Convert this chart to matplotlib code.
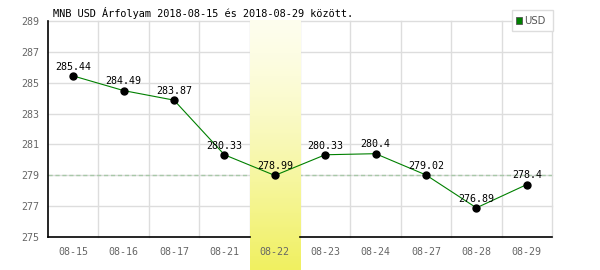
import matplotlib
matplotlib.use("Agg")
import matplotlib.pyplot as plt
import numpy as np
from matplotlib.patches import Rectangle

# Daily MNB USD rates shown in the chart.
dates = ["08-15", "08-16", "08-17", "08-21", "08-22", "08-23", "08-24", "08-27", "08-28", "08-29"]
rates = [285.44, 284.49, 283.87, 280.33, 278.99, 280.33, 280.4, 279.02, 276.89, 278.4]
y_ticks = [275, 277, 279, 281, 283, 285, 287, 289]
highlight_date = "08-22"
reference_level = 279
title = "MNB USD Árfolyam 2018-08-15 és 2018-08-29 között."
series_name = "USD"

W, H = 600, 270
fig = plt.figure(figsize=(W / 100, H / 100), dpi=100)
ax = fig.add_axes([48 / W, 1 - 237 / H, 504 / W, 216 / H])

x = np.arange(len(dates))

# Grid: horizontal at y ticks, vertical between categories.
for yv in y_ticks[1:]:
    ax.axhline(yv, color="#dddddd", lw=1, zorder=0.5, clip_on=False)
for xv in x + 0.5:
    ax.axvline(xv, color="#dddddd", lw=1, zorder=0.5, clip_on=False)
ax.axhline(reference_level, color="#a8c8a8", lw=1, ls=(0, (3, 2)), zorder=0.6)

# Highlighted day with a vertical gradient running to the bottom of the figure.
hi = dates.index(highlight_date)
grad = np.linspace(0, 1, 256).reshape(-1, 1) ** 1.3
top = np.array([254, 254, 238]) / 255
bottom = np.array([240, 240, 96]) / 255
img = top + (bottom - top) * grad[:, :, None]
ybot = -(H - 237) / 216
ax.imshow(img, extent=(hi - 0.5, hi + 0.5, ybot, 1.0), origin="upper",
          transform=ax.get_xaxis_transform(), aspect="auto", clip_on=False, zorder=1.5)
ax.set_xlim(-0.5, len(dates) - 0.5)
ax.set_ylim(y_ticks[0], y_ticks[-1])

# Axis lines: bottom one is interrupted by the highlight.
for s in ["top", "right", "bottom"]:
    ax.spines[s].set_visible(False)
ax.spines["left"].set_color("black")
ax.spines["left"].set_linewidth(1.2)
ax.plot([-0.5, hi - 0.5], [y_ticks[0]] * 2, color="black", lw=1.2, clip_on=False, zorder=2)
ax.plot([hi + 0.5, len(dates) - 0.5], [y_ticks[0]] * 2, color="black", lw=1.2, clip_on=False, zorder=2)

# Series.
ax.plot(x, rates, color="#008000", lw=0.8, zorder=3)
ax.plot(x, rates, "o", color="black", ms=5, zorder=4)
for xi, r in zip(x, rates):
    ax.annotate(f"{r:g}", (xi, r), xytext=(0, 4.5), textcoords="offset points",
                ha="center", va="baseline", fontsize=7.2, family="DejaVu Sans Mono",
                color="black", zorder=5)

ax.set_xticks(x)
ax.set_xticklabels(dates)
ax.set_yticks(y_ticks)
ax.set_yticklabels([str(v) for v in y_ticks])
ax.tick_params(length=0, labelsize=7.2, labelcolor="#666666")
ax.tick_params(axis="x", pad=7)
ax.tick_params(axis="y", pad=6)
for lab in ax.get_xticklabels() + ax.get_yticklabels():
    lab.set_family("DejaVu Sans Mono")

fig.text(53 / W, 1 - 17 / H, title, fontsize=7.4, family="DejaVu Sans Mono",
         color="black", va="baseline", ha="left")

# Legend box.
fig.patches.append(Rectangle((511.5 / W, 1 - 30.5 / H), 41 / W, 20.5 / H,
                             transform=fig.transFigure, facecolor="white",
                             edgecolor="#dddddd", lw=1))
fig.patches.append(Rectangle((515.5 / W, 1 - 23.8 / H), 6.2 / W, 6.5 / H,
                             transform=fig.transFigure, facecolor="#008000",
                             edgecolor="#555555", lw=0.6))
fig.text(524 / W, 1 - 20.7 / H, series_name, fontsize=7.2, color="#555555",
         va="center", ha="left")

fig.savefig("out.png", dpi=100)
